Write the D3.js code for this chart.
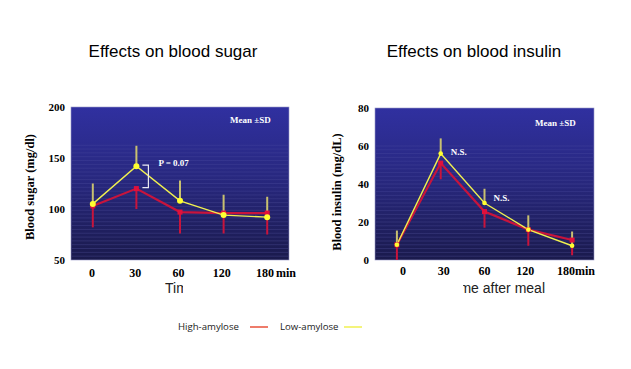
<!DOCTYPE html>
<html><head><meta charset="utf-8">
<script src="https://cdn.jsdelivr.net/npm/d3@7"></script>
<style>body{margin:0;background:#fff}svg{display:block}</style>
</head><body><svg id="c" width="631" height="369"></svg>
<script>
const times = ["0","30","60","120","180"];
const sugarHigh = [103,120,97,96,96];
const sugarHighSD = [21,20,21,20,21];
const sugarLow = [105,142,108,94,92];
const sugarLowSD = [20,20,20,20,20];
const insulinHigh = [8,51,25.5,16,10.5];
const insulinHighSD = [8,8.5,8.5,8.5,8];
const insulinLow = [8,56,30,16,7.5];
const insulinLowSD = [7.5,8,7.5,7.5,7.5];
const sugarTicks = [50,100,150,200];
const insulinTicks = [0,20,40,60,80];

const svg = d3.select("#c");
const defs = svg.append("defs");
const g = defs.append("linearGradient").attr("id","bg").attr("x1",0).attr("y1",0).attr("x2",0).attr("y2",1);
g.append("stop").attr("offset","0%").attr("stop-color","#3030a0");
g.append("stop").attr("offset","50%").attr("stop-color","#27277c");
g.append("stop").attr("offset","100%").attr("stop-color","#1a1a4c");

function panel(o){
  const x = d3.scalePoint().domain(times).range([o.x0,o.x1]).padding(0.5);
  const y = d3.scaleLinear().domain(o.dom).range([o.y1,o.y0]);
  svg.append("rect").attr("x",o.x0).attr("y",o.y0).attr("width",o.x1-o.x0).attr("height",o.y1-o.y0)
    .attr("fill","url(#bg)").attr("stroke","#9a9ac8").attr("stroke-width",0.6);
  const n = 40;
  for(let i=0;i<n;i++){
    const t = i/n;
    if(t<0.25) continue;
    svg.append("line").attr("x1",o.x0+1).attr("x2",o.x1-1)
      .attr("y1",o.y0+t*(o.y1-o.y0)).attr("y2",o.y0+t*(o.y1-o.y0))
      .attr("stroke","#6a6ab8").attr("stroke-opacity",0.25+0.2*t).attr("stroke-width",0.6);
  }
  svg.append("g").selectAll("text").data(o.ticks).join("text")
    .attr("x",o.x0-6).attr("y",d=>y(d)).attr("dy","0.35em").attr("text-anchor","end")
    .attr("font-family","Liberation Serif").attr("font-weight","bold").attr("font-size",11).text(d=>d);
  const xl = d3.scalePoint().domain(times).range(o.lab).padding(0);
  svg.append("g").selectAll("text").data(times).join("text")
    .attr("x",d=>xl(d)).attr("y",o.labY).attr("text-anchor","middle")
    .attr("font-family","Liberation Serif").attr("font-weight","bold").attr("font-size",12).text(d=>d);
  svg.append("text").attr("x",xl("180")+o.minDx).attr("y",o.labY)
    .attr("font-family","Liberation Serif").attr("font-weight","bold").attr("font-size",12).text("min");
  svg.append("text").attr("transform",`translate(${o.ytx},${o.yty}) rotate(-90)`).attr("text-anchor","middle")
    .attr("font-family","Liberation Serif").attr("font-weight","bold").attr("font-size",12.5).text(o.ytitle);
  svg.append("text").attr("x",o.tx).attr("y",57).attr("text-anchor","middle")
    .attr("font-family","Liberation Sans").attr("font-size",17).text(o.title);
  svg.append("text").attr("x",o.msx).attr("y",o.msy).attr("fill","#fff")
    .attr("font-family","Liberation Serif").attr("font-weight","bold").attr("font-size",9).text("Mean ±SD");
  const eb = (vals,sd,sign,col,w) => svg.append("g").selectAll("line").data(times).join("line")
    .attr("x1",d=>x(d)).attr("x2",d=>x(d))
    .attr("y1",(d,i)=>y(vals[i])).attr("y2",(d,i)=>y(Math.max(o.dom[0],vals[i]+sign*sd[i])))
    .attr("stroke",col).attr("stroke-width",w);
  const line = (vals,col,w) => svg.append("path")
    .attr("d",d3.line().x((d,i)=>x(times[i])).y(d=>y(d))(vals))
    .attr("fill","none").attr("stroke",col).attr("stroke-width",w);
  eb(o.high,o.highSD,-1,"#c8143c",2);
  eb(o.low,o.lowSD,1,"#c8c070",2);
  line(o.high,"#c8143c",2.2);
  line(o.low,"#f0f050",1.4);
  svg.append("g").selectAll("rect").data(o.high).join("rect")
    .attr("x",(d,i)=>x(times[i])-2.5).attr("y",d=>y(d)-2.5).attr("width",5).attr("height",5).attr("fill","#e0103c");
  svg.append("g").selectAll("circle").data(o.low).join("circle")
    .attr("cx",(d,i)=>x(times[i])).attr("cy",d=>y(d)).attr("r",o.r).attr("fill","#ffff30");
  return {x,y};
}

const L = panel({x0:71,x1:289,y0:107,y1:260,dom:[50,200],ticks:sugarTicks,lab:[92,265],labY:277,minDx:11,
  ytx:34,yty:187,ytitle:"Blood sugar (mg/dl)",tx:173,title:"Effects on blood sugar",msx:230,msy:123,
  high:sugarHigh,highSD:sugarHighSD,low:sugarLow,lowSD:sugarLowSD,r:3});
const R = panel({x0:375,x1:594,y0:108,y1:260,dom:[0,80],ticks:insulinTicks,lab:[403,566],labY:275,minDx:9,
  ytx:341,yty:192,ytitle:"Blood insulin (mg/dL)",tx:474,title:"Effects on blood insulin",msx:535,msy:126,
  high:insulinHigh,highSD:insulinHighSD,low:insulinLow,lowSD:insulinLowSD,r:2.3});

const bx = L.x("30");
svg.append("path").attr("d",`M${bx+6},${L.y(sugarLow[1])-1}H${bx+12}V${L.y(sugarHigh[1])-1}H${bx+6}`)
  .attr("fill","none").attr("stroke","#e8e8f0").attr("stroke-width",1.2);
svg.append("text").attr("x",bx+22).attr("y",L.y(sugarLow[1])).attr("fill","#fff")
  .attr("font-family","Liberation Serif").attr("font-weight","bold").attr("font-size",9).text("P = 0.07");
svg.append("text").attr("x",R.x("30")+10).attr("y",R.y(insulinLow[1])+1).attr("fill","#fff")
  .attr("font-family","Liberation Serif").attr("font-weight","bold").attr("font-size",9).text("N.S.");
svg.append("text").attr("x",R.x("60")+9).attr("y",R.y(insulinLow[2])-2).attr("fill","#fff")
  .attr("font-family","Liberation Serif").attr("font-weight","bold").attr("font-size",9).text("N.S.");

defs.append("clipPath").attr("id","cl").append("rect").attr("x",0).attr("y",0).attr("width",183).attr("height",369);
defs.append("clipPath").attr("id","cr").append("rect").attr("x",463).attr("y",0).attr("width",168).attr("height",369);
svg.append("text").attr("x",165).attr("y",292.5).attr("clip-path","url(#cl)")
  .attr("font-family","Liberation Sans").attr("font-size",14).attr("fill","#222").text("Tim");
svg.append("text").attr("x",545).attr("y",292.5).attr("text-anchor","end").attr("clip-path","url(#cr)")
  .attr("font-family","Liberation Sans").attr("font-size",14).attr("fill","#222").text("me after meal");

const leg = [{k:"High-amylose",c:"#e8503a",x:178,l:72},{k:"Low-amylose",c:"#f0f050",x:280,l:64}];
const lg = svg.append("g").selectAll("g").data(leg).join("g").attr("transform",d=>`translate(${d.x},330)`);
lg.append("text").attr("font-family","Open Sans").attr("font-size",9.6).attr("fill","#222").text(d=>d.k);
lg.append("line").attr("x1",d=>d.l).attr("x2",d=>d.l+18)
  .attr("y1",-3).attr("y2",-3).attr("stroke",d=>d.c).attr("stroke-width",1.5);
</script></body></html>
